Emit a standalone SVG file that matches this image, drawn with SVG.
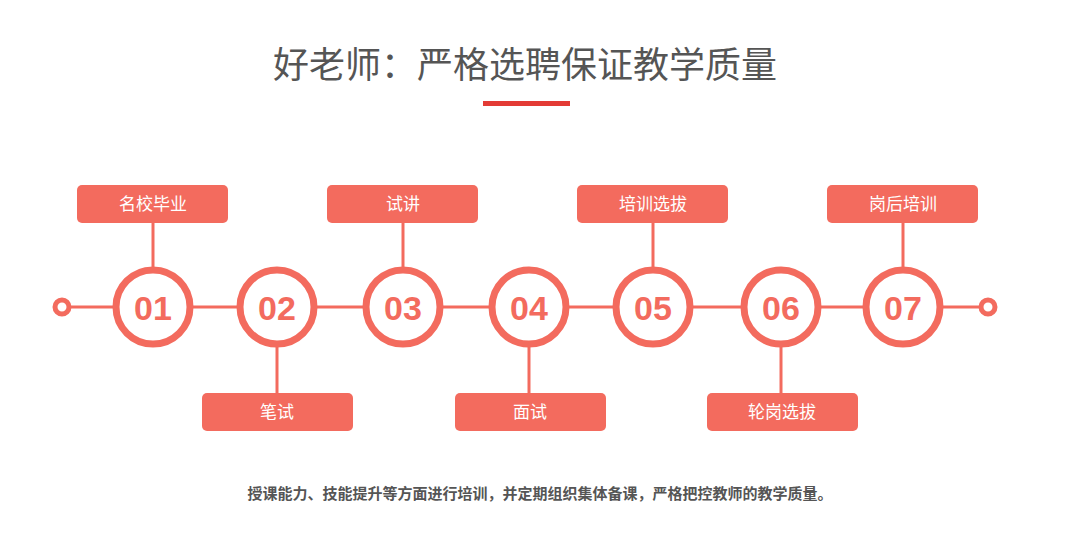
<svg xmlns="http://www.w3.org/2000/svg" width="1080" height="540" viewBox="0 0 1080 540">
<style>
.c{fill:#fff;stroke:#f36b5e;stroke-width:7}
.n{font-family:"Liberation Sans",Arial,sans-serif;font-weight:bold;font-size:34px;fill:#f36b5e;text-anchor:middle}
.b{fill:#f36b5e}
.l{font-family:"Noto Sans CJK SC",sans-serif;font-size:17px;fill:#fff;text-anchor:middle}
.s{stroke:#f36b5e;stroke-width:3}
</style>
<rect width="1080" height="540" fill="#fff"/>
<text x="525" y="78" font-family="Noto Sans CJK SC,sans-serif" font-size="36" fill="#555" text-anchor="middle">好老师：严格选聘保证教学质量</text>
<rect x="483" y="101" width="87" height="5" fill="#e33b35"/>
<g id="connectors">
<line x1="62" y1="307" x2="988" y2="307" class="s" stroke-width="4"/>
<circle cx="62" cy="307" r="7" fill="#fff" stroke="#f36b5e" stroke-width="5"/>
<circle cx="988" cy="307" r="7" fill="#fff" stroke="#f36b5e" stroke-width="5"/>
<line x1="153" y1="222" x2="153" y2="268" class="s"/>
<line x1="403" y1="222" x2="403" y2="268" class="s"/>
<line x1="653" y1="222" x2="653" y2="268" class="s"/>
<line x1="903" y1="222" x2="903" y2="268" class="s"/>
<line x1="277" y1="346" x2="277" y2="394" class="s"/>
<line x1="529" y1="346" x2="529" y2="394" class="s"/>
<line x1="781" y1="346" x2="781" y2="394" class="s"/>
</g>
<g id="n1"><circle cx="153" cy="307" r="37" class="c"/><text x="153" y="320" class="n">01</text></g>
<g id="n2"><circle cx="277" cy="307" r="37" class="c"/><text x="277" y="320" class="n">02</text></g>
<g id="n3"><circle cx="403" cy="307" r="37" class="c"/><text x="403" y="320" class="n">03</text></g>
<g id="n4"><circle cx="529" cy="307" r="37" class="c"/><text x="529" y="320" class="n">04</text></g>
<g id="n5"><circle cx="653" cy="307" r="37" class="c"/><text x="653" y="320" class="n">05</text></g>
<g id="n6"><circle cx="781" cy="307" r="37" class="c"/><text x="781" y="320" class="n">06</text></g>
<g id="n7"><circle cx="903" cy="307" r="37" class="c"/><text x="903" y="320" class="n">07</text></g>
<g id="t1"><rect x="77" y="185" width="151" height="38" rx="5" class="b"/><text x="153" y="210" class="l">名校毕业</text></g>
<g id="t3"><rect x="327" y="185" width="151" height="38" rx="5" class="b"/><text x="403" y="210" class="l">试讲</text></g>
<g id="t5"><rect x="577" y="185" width="151" height="38" rx="5" class="b"/><text x="653" y="210" class="l">培训选拔</text></g>
<g id="t7"><rect x="827" y="185" width="151" height="38" rx="5" class="b"/><text x="903" y="210" class="l">岗后培训</text></g>
<g id="t2"><rect x="202" y="393" width="151" height="38" rx="5" class="b"/><text x="277" y="418" class="l">笔试</text></g>
<g id="t4"><rect x="455" y="393" width="151" height="38" rx="5" class="b"/><text x="530" y="418" class="l">面试</text></g>
<g id="t6"><rect x="707" y="393" width="151" height="38" rx="5" class="b"/><text x="782" y="418" class="l">轮岗选拔</text></g>
<text x="540" y="499" font-family="Noto Sans CJK SC,sans-serif" font-weight="bold" font-size="15" fill="#555" text-anchor="middle">授课能力、技能提升等方面进行培训，并定期组织集体备课，严格把控教师的教学质量。</text>
</svg>
